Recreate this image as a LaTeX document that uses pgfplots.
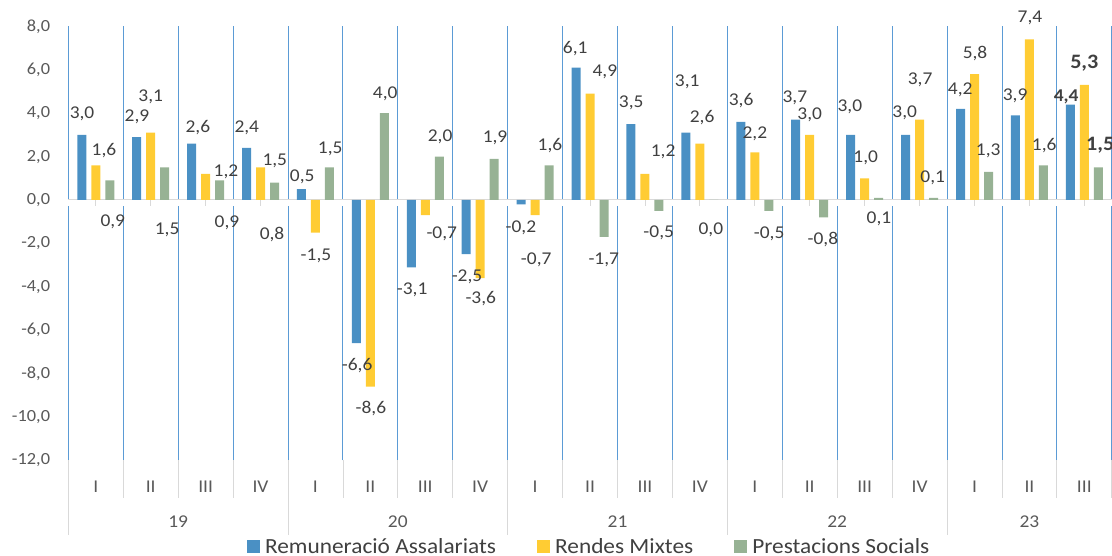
\documentclass[border=0pt]{standalone}
\usepackage{fontspec}
\setmainfont{Carlito}[FakeStretch=1.08]
\usepackage{pgfplots}
\usepackage{pgfplotstable}
\pgfplotsset{compat=1.18}
\definecolor{cBlue}{HTML}{4A90C4}
\definecolor{cYel}{HTML}{FFCC33}
\definecolor{cGrn}{HTML}{97B294}
\definecolor{cGrid}{HTML}{5B9BD5}
\definecolor{cAxis}{HTML}{D9D9D9}
\definecolor{cTick}{HTML}{595959}
\definecolor{cLab}{HTML}{404040}
\tikzset{year/.style={text=cTick, font=\fontsize{18}{18}\selectfont, inner sep=0pt, anchor=center}}

\pgfplotstableread{
x rem ren pre
0 3.0 1.6 0.9
1 2.9 3.1 1.5
2 2.6 1.2 0.9
3 2.4 1.5 0.8
4 0.5 -1.5 1.5
5 -6.6 -8.6 4.0
6 -3.1 -0.7 2.0
7 -2.5 -3.6 1.9
8 -0.2 -0.7 1.6
9 6.1 4.9 -1.7
10 3.5 1.2 -0.5
11 3.1 2.6 0.0
12 3.6 2.2 -0.5
13 3.7 3.0 -0.8
14 3.0 1.0 0.1
15 3.0 3.7 0.1
16 4.2 5.8 1.3
17 3.9 7.4 1.6
18 4.4 5.3 1.5
}\data

\pgfplotstableread{
x y l
-0.25 3.96 3,0
0.15 2.26 1,6
0.31 -1.01 0,9
0.75 3.82 2,9
1.00 4.75 3,1
1.30 -1.38 1,5
1.86 3.36 2,6
2.37 1.29 1,2
2.39 -1.06 0,9
2.75 3.32 2,4
3.26 1.80 1,5
3.21 -1.61 0,8
3.76 1.06 0,5
4.27 2.35 1,5
4.01 -2.58 -1,5
5.27 4.88 4,0
4.76 -7.65 -6,6
5.01 -9.63 -8,6
6.27 2.90 2,0
6.30 -1.57 -0,7
5.76 -4.15 -3,1
7.27 2.86 1,9
6.76 -3.55 -2,5
7.01 -4.56 -3,6
8.27 2.49 1,6
7.74 -1.29 -0,2
8.02 -2.76 -0,7
8.73 7.00 6,1
9.27 5.90 4,9
9.25 -2.76 -1,7
9.75 4.47 3,5
10.33 2.21 1,2
10.25 -1.52 -0,5
10.77 5.44 3,1
11.04 3.82 2,6
11.20 -1.38 0,0
11.75 4.56 3,6
12.00 3.04 2,2
12.26 -1.57 -0,5
12.73 4.70 3,7
13.00 3.92 3,0
13.24 -1.84 -0,8
13.73 4.29 3,0
14.02 1.94 1,0
14.26 -0.88 0,1
14.73 4.01 3,0
15.01 5.53 3,7
15.24 1.01 0,1
15.74 5.07 4,2
16.01 6.77 5,8
16.25 2.26 1,3
16.74 4.79 3,9
17.01 8.39 7,4
17.27 2.53 1,6
}\labs

\pgfplotstableread{
x y l
17.67 4.75 4,4
}\labsB

\pgfplotstableread{
x y l
18.00 6.31 5,3
18.29 2.53 1,5
}\labsC

\begin{document}
\begin{tikzpicture}
\useasboundingbox (0,0) rectangle (1112pt,555pt);
\begin{axis}[
  at={(68.3pt,94.6pt)}, anchor=south west,
  scale only axis, width=1043.5pt, height=434pt,
  xmin=-0.5, xmax=18.5, ymin=-12, ymax=8,
  clip=false,
  ytick={-12,-10,...,8},
  xtick={0,...,18},
  xticklabels={I,II,III,IV,I,II,III,IV,I,II,III,IV,I,II,III,IV,I,II,III},
  minor xtick={-0.5,0.5,...,18.5},
  xminorgrids,
  minor grid style={draw=cGrid, line width=0.9pt},
  major tick length=0pt, minor tick length=0pt,
  tick style={draw=none},
  axis line style={draw=none},
  yticklabel style={anchor=east, inner sep=0pt, xshift=-18pt, text=cTick,
    font=\fontsize{17}{17}\selectfont,
    /pgf/number format/.cd, fixed, fixed zerofill, precision=1, use comma, assume math mode=true},
  xticklabel style={anchor=center, inner sep=0pt, yshift=-26.6pt, text=cTick,
    font=\fontsize{18}{18}\selectfont},
  legend columns=3,
  legend style={at={(0.1713,-0.1995)}, anchor=west, draw=none, fill=none,
    inner sep=0pt, outer sep=0pt, text=cLab,
    font=\fontsize{21.6}{21.6}\selectfont,
    nodes={inner sep=0pt},
    /tikz/every odd column/.append style={column sep=5pt},
    /tikz/every even column/.append style={column sep=41pt}},
  legend image code/.code={\fill[#1] (0pt,-6.5pt) rectangle (13pt,6.5pt);},
]
% gap in the grid lines under the zero line
\fill[white] (axis cs:-0.6,0) rectangle ([yshift=-6pt]axis cs:18.6,0);
\draw[cAxis, line width=1pt] (axis cs:-0.5,0) -- (axis cs:18.5,0);
\pgfplotsinvokeforeach{0,1,2,3,4,5,6,7,8,9,10,11,12,13,14,15,16,17,18}{
  \draw[cAxis, line width=0.8pt] (axis cs:#1,0) -- ++(0pt,-6pt);
}
% category separators below the plot
\pgfplotsinvokeforeach{-0.5,3.5,7.5,11.5,15.5}{
  \draw[cAxis, line width=0.8pt] (axis cs:#1,-12) -- ++(0pt,-75pt);
}
\pgfplotsinvokeforeach{0.5,1.5,2.5,4.5,5.5,6.5,8.5,9.5,10.5,12.5,13.5,14.5,16.5,17.5,18.5}{
  \draw[cAxis, line width=0.8pt] (axis cs:#1,-12) -- ++(0pt,-38pt);
}
\node[year] at ([yshift=-61.6pt]axis cs:1.5,-12) {19};
\node[year] at ([yshift=-61.6pt]axis cs:5.5,-12) {20};
\node[year] at ([yshift=-61.6pt]axis cs:9.5,-12) {21};
\node[year] at ([yshift=-61.6pt]axis cs:13.5,-12) {22};
\node[year] at ([yshift=-61.6pt]axis cs:17,-12) {23};

\addplot[ybar, bar width=9pt, bar shift=-14pt, fill=cBlue, draw=none] table[x=x,y=rem]{\data};
\addlegendentry{Remuneració Assalariats}
\addplot[ybar, bar width=9pt, bar shift=0pt, fill=cYel, draw=none] table[x=x,y=ren]{\data};
\addlegendentry{Rendes Mixtes}
\addplot[ybar, bar width=9pt, bar shift=14pt, fill=cGrn, draw=none] table[x=x,y=pre]{\data};
\addlegendentry{Prestacions Socials}

\addplot[forget plot, draw=none, mark=none, nodes near coords, point meta=explicit symbolic,
  nodes near coords style={anchor=center, inner sep=0pt, text=cLab, font=\fontsize{18}{18}\selectfont}]
  table[x=x,y=y,meta=l]{\labs};
\addplot[forget plot, draw=none, mark=none, nodes near coords, point meta=explicit symbolic,
  nodes near coords style={anchor=center, inner sep=0pt, text=cLab, font=\bfseries\fontsize{18}{18}\selectfont}]
  table[x=x,y=y,meta=l]{\labsB};
\addplot[forget plot, draw=none, mark=none, nodes near coords, point meta=explicit symbolic,
  nodes near coords style={anchor=center, inner sep=0pt, text=cLab, font=\bfseries\fontsize{20.5}{20.5}\selectfont}]
  table[x=x,y=y,meta=l]{\labsC};
\end{axis}
\end{tikzpicture}
\end{document}
